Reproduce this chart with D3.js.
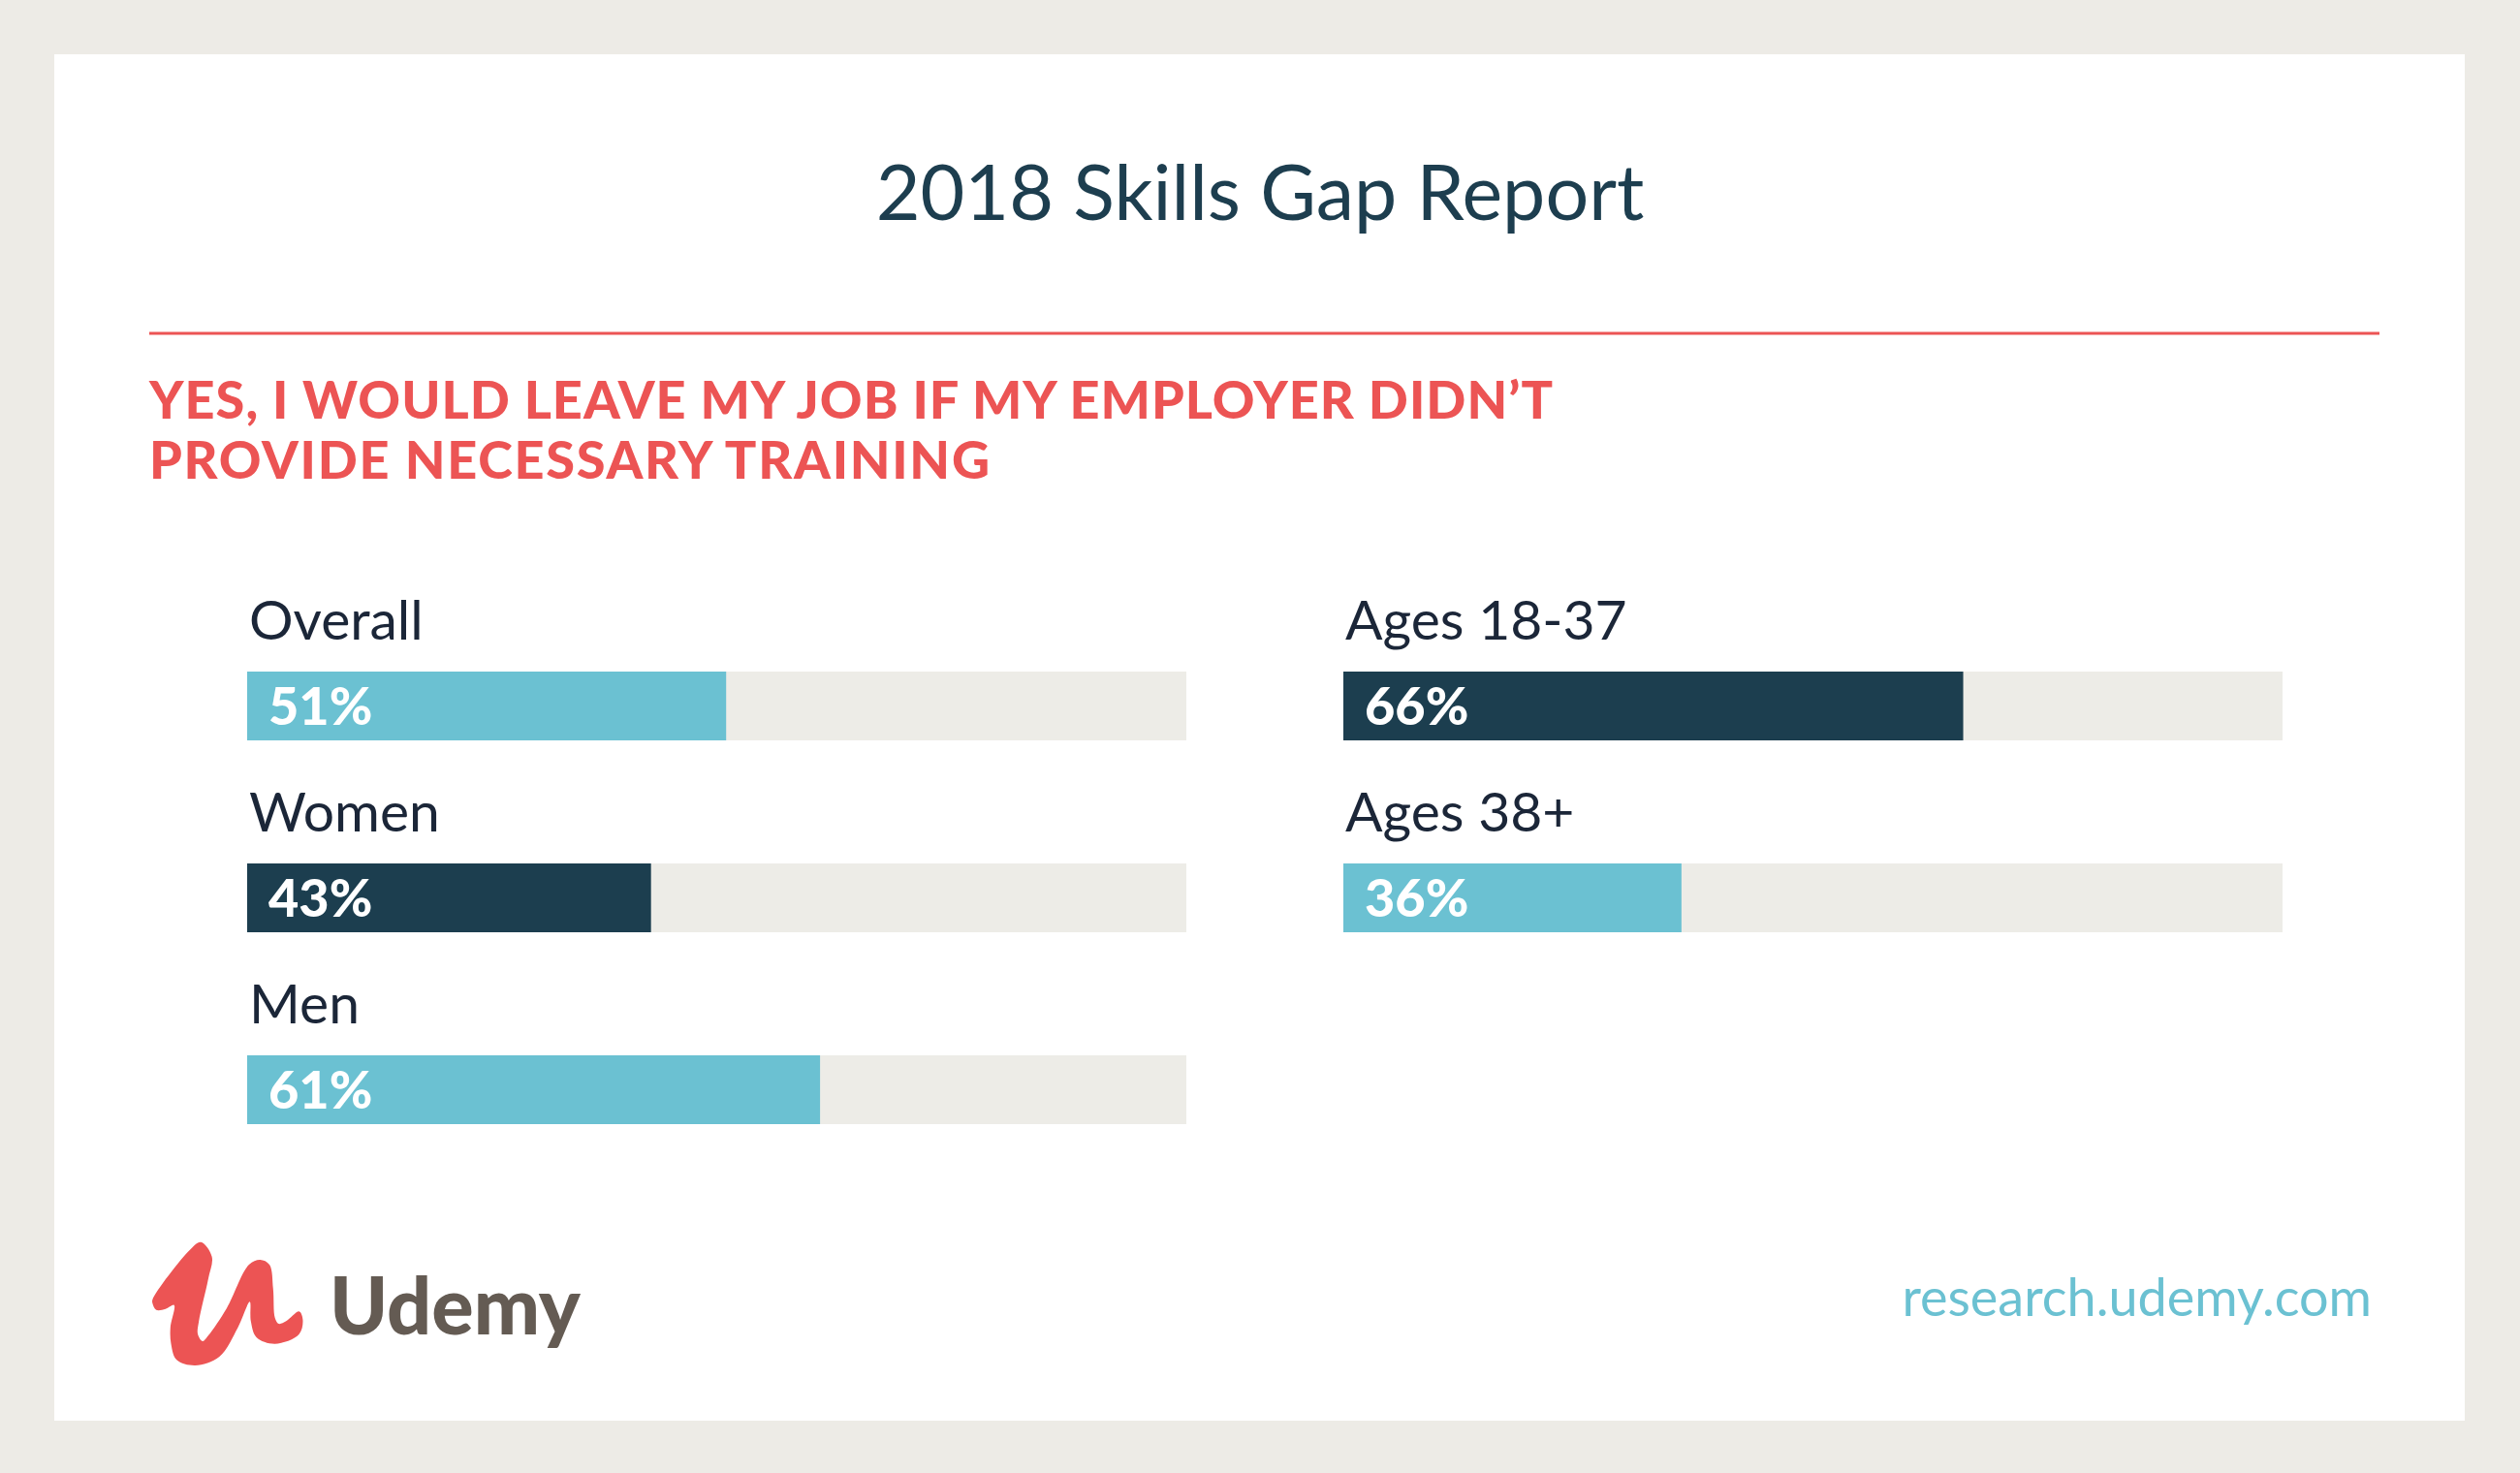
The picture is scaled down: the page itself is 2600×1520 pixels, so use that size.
<!DOCTYPE html>
<html>
<head>
<meta charset="utf-8">
<script src="https://cdn.jsdelivr.net/npm/d3@7"></script>
<style>
  html, body { margin: 0; padding: 0; background: #EDEBE6; }
  svg { display: block; }
</style>
</head>
<body>
<svg id="chart" width="2600" height="1520"></svg>
<script>
// ---- data ----
const title = "2018 Skills Gap Report";
const subtitleLines = ["YES, I WOULD LEAVE MY JOB IF MY EMPLOYER DIDN’T", "PROVIDE NECESSARY TRAINING"];
const leftCategories = ["Overall", "Women", "Men"];
const leftValues = [51, 43, 61];
const rightCategories = ["Ages 18-37", "Ages 38+"];
const rightValues = [66, 36];
const brandName = "Udemy";
const footerUrl = "research.udemy.com";

// ---- styles ----
const C = {
  bg: "#EDEBE6", card: "#FFFFFF", title: "#1D3E4F", red: "#EC5454",
  label: "#1B2638", light: "#6BC1D2", dark: "#1C3E4F", track: "#EDECE7",
  brand: "#645B53", url: "#6BC1D2"
};
const FONT = "Lato, 'Open Sans', sans-serif";
const subtitleWidths = [1448, 867];

const svg = d3.select("#chart");
svg.append("rect").attr("width", 2600).attr("height", 1520).attr("fill", C.bg);
svg.append("rect").attr("x", 56).attr("y", 56).attr("width", 2487).attr("height", 1410).attr("fill", C.card);

// title
svg.append("text").attr("x", 1300).attr("y", 227).attr("text-anchor", "middle")
  .attr("font-family", FONT).attr("font-size", 79).attr("fill", C.title).text(title);

// red rule
svg.append("line").attr("x1", 154).attr("x2", 2455).attr("y1", 344).attr("y2", 344)
  .attr("stroke", C.red).attr("stroke-width", 3);

// subtitle
svg.append("g").selectAll("text").data(subtitleLines).join("text")
  .attr("x", 154).attr("y", (d, i) => 432 + i * 62)
  .attr("font-family", FONT).attr("font-weight", 900).attr("font-size", 54)
  .attr("textLength", (d, i) => subtitleWidths[i]).attr("lengthAdjust", "spacing")
  .attr("fill", C.red).text(d => d);

// ---- bars ----
const trackW = 969, barH = 71;
const x = d3.scaleLinear().domain([0, 100]).range([0, trackW]);
const colX = d3.scalePoint().domain(["left", "right"]).range([255, 1386]);
const rowY = d3.scalePoint().domain([0, 1, 2]).range([693, 1089]);
const allCats = leftCategories.concat(rightCategories);
const color = d3.scaleOrdinal().domain(allCats).range([C.light, C.dark, C.light, C.dark, C.light]);

function panel(col, cats, vals) {
  const data = cats.map((c, i) => ({ cat: c, val: vals[i], row: i }));
  const g = svg.append("g").attr("transform", `translate(${colX(col)},0)`);
  const row = g.selectAll("g.row").data(data).join("g").attr("class", "row")
    .attr("transform", d => `translate(0,${rowY(d.row)})`);
  row.append("text").attr("x", 2).attr("y", -33)
    .attr("font-family", FONT).attr("font-size", 57).attr("fill", C.label).text(d => d.cat);
  row.append("rect").attr("x", 0).attr("y", 0).attr("width", x(100)).attr("height", barH).attr("fill", C.track);
  row.append("rect").attr("x", 0).attr("y", 0).attr("width", d => x(d.val)).attr("height", barH).attr("fill", d => color(d.cat));
  row.append("text").attr("x", 22).attr("y", barH / 2 + 19)
    .attr("font-family", FONT).attr("font-weight", 900).attr("font-size", 54)
    .attr("fill", "#FFFFFF").text(d => d.val + "%");
}
panel("left", leftCategories, leftValues);
panel("right", rightCategories, rightValues);

// ---- footer: logo ----
const logoPts = [
  [157.4,1341],[195.7,1290],[207.2,1281.7],[218.6,1296.7],[214.8,1320],[205.2,1363.3],[204.1,1376.7],
  [209.1,1384],[214.8,1378.3],[233.9,1350],[256.9,1305],[268.4,1300],[278,1305],[281.8,1330],
  [283.7,1360],[287.5,1366],[295.2,1363.3],[308.6,1353.3],[312.4,1361.7],[308.6,1376.7],[283.7,1386.7],
  [264.6,1380],[258.8,1363.3],[257.7,1343.3],[245.4,1370],[226.3,1400],[201.4,1409],[182.3,1403.3],
  [176.5,1386.7],[175.8,1370],[179.6,1346.7],[170.8,1350.7],[161.2,1351.7],[157.4,1345]
];
svg.append("path").attr("d", d3.line().curve(d3.curveCatmullRomClosed.alpha(0.5))(logoPts))
  .attr("fill", C.red);
svg.append("text").attr("x", 340).attr("y", 1377)
  .attr("font-family", FONT).attr("font-weight", 900).attr("font-size", 81)
  .attr("fill", C.brand).text(brandName);

svg.append("text").attr("x", 2447).attr("y", 1358).attr("text-anchor", "end")
  .attr("font-family", FONT).attr("font-size", 54).attr("fill", C.url).text(footerUrl);
</script>
</body>
</html>
